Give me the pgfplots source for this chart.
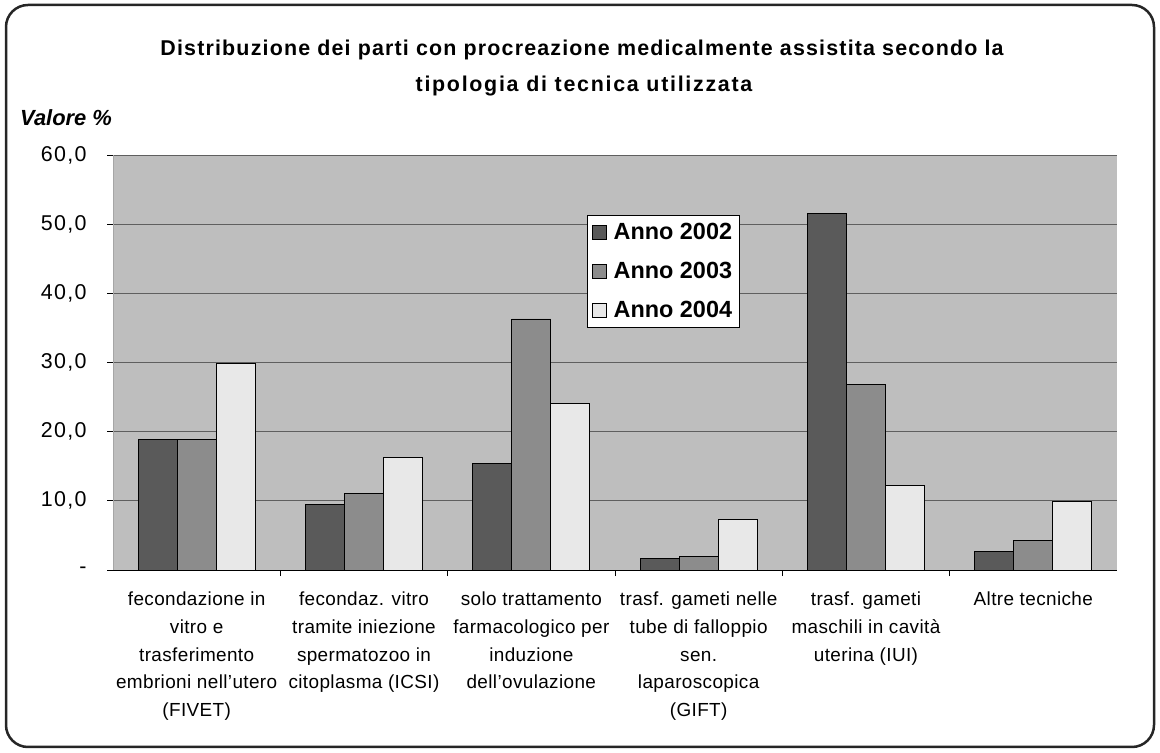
\documentclass[border=0pt]{standalone}
\usepackage{pgfplots}
\pgfplotsset{compat=1.18}
\usepackage{fontspec}
\setmainfont{Liberation Sans}
\definecolor{bg}{RGB}{190,190,190}
\definecolor{cA}{RGB}{90,90,90}
\definecolor{cB}{RGB}{140,140,140}
\definecolor{cC}{RGB}{232,232,232}
\definecolor{gridc}{RGB}{95,95,95}
\begin{document}
\begin{tikzpicture}
\useasboundingbox (0bp,0bp) rectangle (1160bp,753bp);
\draw[line width=2.5bp, rounded corners=22bp, black!85] (6bp,6bp) rectangle (1154bp,748bp);
\node[font=\fontsize{21.5}{25}\selectfont\bfseries\addfontfeature{LetterSpace=5.5}, inner sep=0] at (582bp,703bp) {Distribuzione dei parti con procreazione medicalmente assistita secondo la};
\node[font=\fontsize{21.5}{25}\selectfont\bfseries\addfontfeature{LetterSpace=8}, inner sep=0] at (584bp,667bp) {tipologia di tecnica utilizzata};
\node[anchor=west, font=\fontsize{22}{26}\selectfont\bfseries\itshape, inner sep=0] at (20bp,635bp) {Valore \%};
\begin{axis}[
  at={(113bp,183bp)}, anchor=south west,
  width=1004bp, height=415bp, scale only axis,
  ybar legend/.style={legend image code/.code={\draw[##1,draw=black,line width=0.6bp] (0bp,-7bp) rectangle (14bp,7bp);}},
  ybar=0pt, bar width=39bp,
  xmin=-0.5, xmax=5.5, ymin=0, ymax=60,
  axis background/.style={fill=bg},
  axis x line*=bottom, axis y line*=left,
  x axis line style={-, black, line width=1bp},
  y axis line style={-, draw=gray!70},
  xtick={0,1,2,3,4,5},
  xticklabels={{fecondazione in\\vitro e\\trasferimento\\embrioni nell'utero\\(FIVET)},
    {fecondaz. vitro\\tramite iniezione\\spermatozoo in\\citoplasma (ICSI)},
    {solo trattamento\\farmacologico per\\induzione\\dell'ovulazione},
    {trasf. gameti nelle\\tube di falloppio\\sen.\\laparoscopica\\(GIFT)},
    {trasf. gameti\\maschili in cavità\\uterina (IUI)},
    {Altre tecniche}},
  minor xtick={0.5,1.5,2.5,3.5,4.5},
  xtick style={draw=none},
  minor x tick style={draw=black, line width=0.8bp},
  ytick={0,10,20,30,40,50,60},
  yticklabels={-,{10,0},{20,0},{30,0},{40,0},{50,0},{60,0}},
  ytick style={draw=black, line width=0.8bp},
  tick align=outside, major tick length=6bp, minor tick length=6bp,
  ymajorgrids, grid style={gridc, line width=0.8bp},
  xticklabel style={align=center, font=\fontsize{19}{28}\selectfont\addfontfeature{LetterSpace=2}, anchor=north, yshift=-12bp},
  yticklabel style={font=\fontsize{21.5}{26}\selectfont\addfontfeature{LetterSpace=6}, xshift=-17bp},
  legend style={at={(0.472,0.855)}, anchor=north west, draw=black, fill=white,
    font=\fontsize{23.5}{27}\selectfont\bfseries, row sep=17bp, column sep=5bp, inner xsep=5bp, inner ysep=6bp},
  legend cell align=left,
]
\addplot[fill=cA, draw=black, line width=0.8bp] coordinates {(0,18.9) (1,9.5) (2,15.4) (3,1.7) (4,51.5) (5,2.7)};
\addplot[fill=cB, draw=black, line width=0.8bp] coordinates {(0,18.9) (1,11.1) (2,36.3) (3,1.9) (4,26.8) (5,4.3)};
\addplot[fill=cC, draw=black, line width=0.8bp] coordinates {(0,29.9) (1,16.3) (2,24.1) (3,7.3) (4,12.2) (5,9.9)};
\legend{Anno 2002, Anno 2003, Anno 2004}
\end{axis}
\end{tikzpicture}
\end{document}
